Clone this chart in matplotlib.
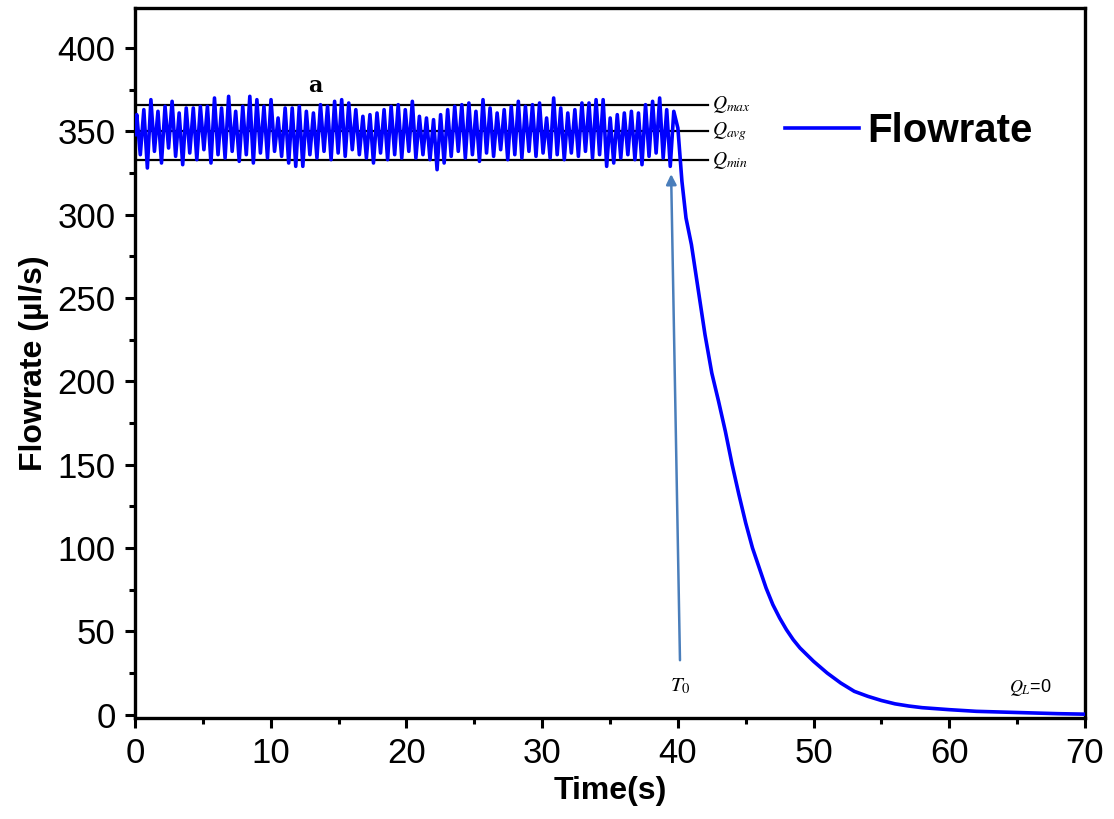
#%%
# Flowrate vs time: oscillating pump flow, then decay after T0
import numpy as np
import matplotlib.pyplot as plt

plt.rcParams['font.family'] = ['Liberation Sans', 'DejaVu Sans']
plt.rcParams['mathtext.fontset'] = 'stix'

# Oscillation peaks and troughs (µl/s), 0-40 s
peaks = [360, 363, 369, 362, 365, 368, 361, 364, 364, 365, 365, 370, 364, 371, 362, 365, 371, 369, 365, 369,
         358, 364, 364, 365, 362, 361, 366, 365, 368, 369, 367, 363, 359, 360, 361, 363, 365, 366, 363,
         368, 359, 358, 357, 360, 363, 365, 366, 367, 362, 369, 364, 361, 363, 365, 368, 365, 366, 367,
         358, 370, 364, 361, 363, 367, 367, 369, 369, 358, 360, 361, 362, 361, 366, 368, 370, 363, 362]
troughs = [336, 328, 338, 331, 340, 335, 330, 337, 333, 339, 331, 336, 334, 338, 332, 336, 331, 337, 334, 338,
           335, 331, 329, 329, 336, 334, 338, 333, 337, 335, 339, 336, 334, 331, 337, 333, 336, 334, 338,
           334, 336, 333, 327, 331, 335, 338, 334, 336, 332, 337, 335, 339, 333, 336, 334, 338, 335, 337,
           334, 336, 333, 337, 335, 338, 334, 336, 329, 331, 334, 336, 333, 330, 335, 337, 334, 329]
first_peak_t = 0.13
last_peak_t = 39.7
start_value = 348

# Decay after the valve closes
decay_t = [40.0, 40.3, 40.6, 41.0, 41.5, 42.0, 42.5, 43.0, 43.5, 44.0, 44.5, 45.0, 45.5, 46.0, 46.5,
           47.0, 47.5, 48.0, 48.5, 49.0, 49.5, 50.0, 51.0, 52.0, 53.0, 54.0, 55.0, 56.0, 57.0, 58.0,
           60.0, 62.0, 65.0, 68.0, 70.0]
decay_q = [352, 320, 298, 282, 255, 228, 205, 188, 170, 150, 132, 115, 100, 88, 76,
           66, 58, 51, 45, 40, 36, 32, 25, 19, 14, 11, 8.5, 6.5, 5.2, 4.2,
           3.0, 2.0, 1.3, 0.6, 0.3]

q_max, q_avg, q_min = 366, 350, 332.5
ref_end = 42.2

# Build the full series
t_pk = np.linspace(first_peak_t, last_peak_t, len(peaks))
half = (t_pk[1] - t_pk[0]) / 2
t_tr = t_pk[:-1] + half
t_osc = np.empty(len(peaks) + len(troughs))
q_osc = np.empty_like(t_osc)
t_osc[0::2] = t_pk
t_osc[1::2] = t_tr
q_osc[0::2] = peaks
q_osc[1::2] = troughs
t_all = np.concatenate([[0.0], t_osc, decay_t])
q_all = np.concatenate([[start_value], q_osc, decay_q])

fig = plt.figure(figsize=(11.14, 8.19), dpi=100)
ax = fig.add_axes([135 / 1114, 1 - 718 / 819, 950 / 1114, 710 / 819])

# reference lines
for q in (q_max, q_avg, q_min):
    ax.plot([0, ref_end], [q, q], color='black', linewidth=1.6, zorder=2)
ax.text(ref_end + 0.3, q_max, r'$Q_{max}$', fontsize=14, va='center', ha='left')
ax.text(ref_end + 0.3, q_avg, r'$Q_{avg}$', fontsize=14, va='center', ha='left')
ax.text(ref_end + 0.3, q_min, r'$Q_{min}$', fontsize=14, va='center', ha='left')

ax.plot(t_all, q_all, color='#0000ff', linewidth=2.6, label='Flowrate', zorder=3)

# T0 arrow
ax.annotate('', xy=(39.5, 326), xytext=(40.16, 31),
            arrowprops=dict(arrowstyle='-|>', color='#4a7ebb', lw=1.8, mutation_scale=15))
ax.text(40.16, 17, r'$T_0$', fontsize=15, ha='center', va='center')
ax.text(66.0, 16, r'$Q_L$=0', fontsize=13, ha='center', va='center')
ax.text(13.3, 377, 'a', fontsize=16, fontweight='bold', family='DejaVu Serif', ha='center', va='center')

ax.set_xlim(0, 70)
ax.set_ylim(-2, 424)
ax.set_xticks(np.arange(0, 71, 10))
ax.set_xticks(np.arange(5, 70, 10), minor=True)
ax.set_yticks(np.arange(0, 401, 50))
ax.set_yticks(np.arange(25, 424, 50), minor=True)
ax.tick_params(which='major', direction='out', length=7, width=2.2, labelsize=25, pad=7)
ax.tick_params(which='minor', direction='out', length=4, width=2.2)
for s in ax.spines.values():
    s.set_linewidth(2.4)

ax.set_xlabel('Time(s)', fontsize=23, fontweight='bold', labelpad=4)
ax.set_ylabel('Flowrate (µl/s)', fontsize=23, fontweight='bold', labelpad=6)

leg = ax.legend(loc='center left', bbox_to_anchor=(0.684, 0.827), frameon=False,
                prop=dict(size=29, weight='bold'), handlelength=1.85, handletextpad=0.2,
                borderpad=0, borderaxespad=0)

plt.savefig('out.png', dpi=100)
